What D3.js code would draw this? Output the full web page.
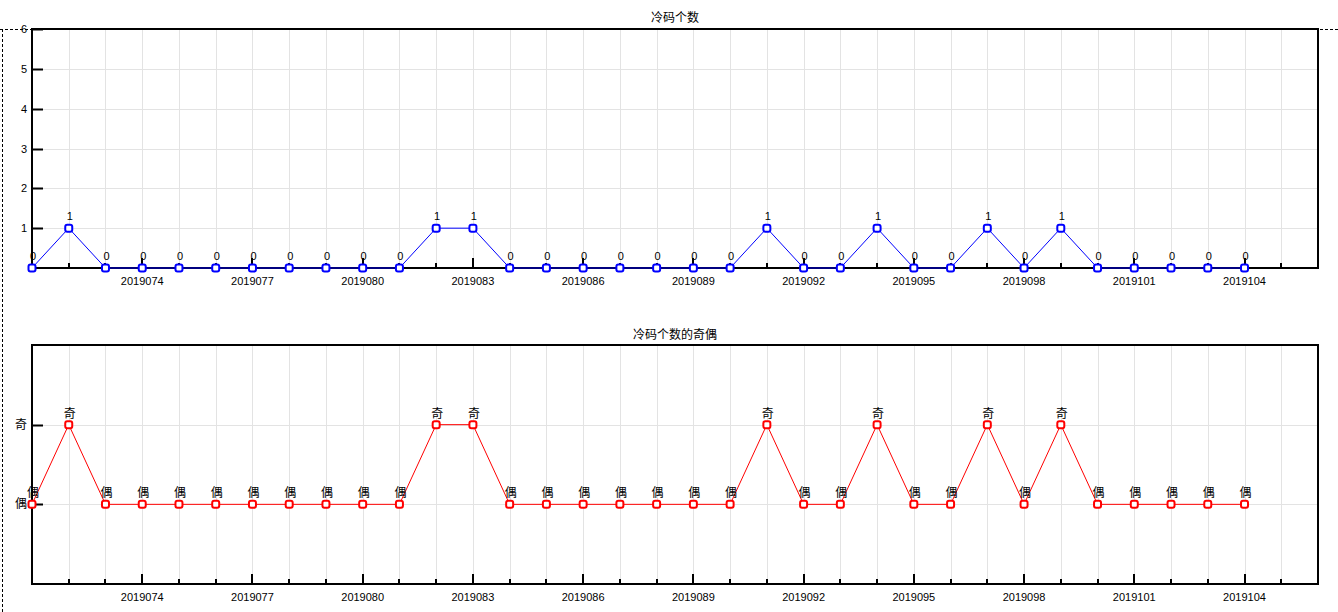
<!DOCTYPE html>
<html><head><meta charset="utf-8">
<script src="https://cdn.jsdelivr.net/npm/d3@7"></script>
<style>
html,body{margin:0;padding:0;background:#fff;}
svg{display:block;}
text{font-family:"Liberation Sans",Arial,sans-serif;font-size:11px;fill:#000;}
.cjk{font-family:"Noto Sans CJK SC",sans-serif;font-size:12px;}
</style></head>
<body><svg id="c" width="1338" height="612"></svg>
<script>
const periods = ["2019071","2019072","2019073","2019074","2019075","2019076","2019077","2019078","2019079","2019080",
"2019081","2019082","2019083","2019084","2019085","2019086","2019087","2019088","2019089","2019090",
"2019091","2019092","2019093","2019094","2019095","2019096","2019097","2019098","2019099","2019100",
"2019101","2019102","2019103","2019104","2019105","2019106"];
const coldCount = [0,1,0,0,0,0,0,0,0,0,0,1,1,0,0,0,0,0,0,0,1,0,0,1,0,0,1,0,1,0,0,0,0,0];
const parity = ["偶","奇","偶","偶","偶","偶","偶","偶","偶","偶","偶","奇","奇","偶","偶","偶","偶","偶","偶","偶",
"奇","偶","偶","奇","偶","偶","奇","偶","奇","偶","偶","偶","偶","偶"];
const xTickLabels = ["2019074","2019077","2019080","2019083","2019086","2019089","2019092","2019095","2019098","2019101","2019104"];
const yTicksTop = [1,2,3,4,5,6];
const parityLevels = ["偶","奇"];

const svg = d3.select("#c");
const L = 32, R = 1318;
const x = d3.scaleLinear().domain([0, periods.length - 1]).range([L, R]);

function panel(top, bottom, yScale, yTicks, yFmt, yClass, vals, labels, color, title, titleY, lblClass, lblOff) {
  const g = svg.append("g");
  g.selectAll(".vg").data(periods.slice(1, -1)).join("line")
    .attr("x1", (d,i)=>Math.round(x(i+1))+0.5).attr("x2",(d,i)=>Math.round(x(i+1))+0.5)
    .attr("y1", top).attr("y2", bottom).attr("stroke", "#e3e3e3");
  g.selectAll(".hg").data(yTicks).join("line")
    .attr("x1", L).attr("x2", R).attr("y1", d=>Math.round(yScale(d))+0.5).attr("y2", d=>Math.round(yScale(d))+0.5)
    .attr("stroke", "#e3e3e3");
  g.append("rect").attr("x", L).attr("y", top).attr("width", R-L).attr("height", bottom-top)
    .attr("fill","none").attr("stroke","#000").attr("stroke-width",2);
  g.selectAll(".yt").data(yTicks).join("line")
    .attr("x1", L).attr("x2", L+11).attr("y1", d=>Math.round(yScale(d))+0.5).attr("y2", d=>Math.round(yScale(d))+0.5)
    .attr("stroke","#000").attr("stroke-width",2);
  g.selectAll(".yl").data(yTicks).join("text")
    .attr("class", yClass)
    .attr("x", 27).attr("y", d=>yScale(d)+4).attr("text-anchor","end").text(yFmt);
  g.selectAll(".xt").data(periods.slice(1,-1)).join("line")
    .attr("x1",(d,i)=>Math.round(x(i+1))).attr("x2",(d,i)=>Math.round(x(i+1)))
    .attr("y1", bottom).attr("y2", d=>xTickLabels.includes(d) ? bottom-10 : bottom-5)
    .attr("stroke","#000").attr("stroke-width",2);
  g.selectAll(".xl").data(xTickLabels).join("text")
    .attr("x", d=>x(periods.indexOf(d))).attr("y", bottom+17).attr("text-anchor","middle").text(d=>d);
  g.append("text").attr("class","cjk").attr("x",(L+R)/2).attr("y",titleY).attr("text-anchor","middle").text(title);
  const line = d3.line().x((d,i)=>x(i)).y(d=>yScale(d));
  g.append("path").datum(vals).attr("d", line).attr("fill","none").attr("stroke",color).attr("stroke-width",1);
  g.selectAll(".mk").data(vals).join("rect")
    .attr("x",(d,i)=>x(i)-3.5).attr("y",d=>yScale(d)-3.5).attr("width",7).attr("height",7).attr("rx",2)
    .attr("fill","#fff").attr("stroke",color).attr("stroke-width",2);
  g.selectAll(".dl").data(vals).join("text")
    .attr("class", lblClass)
    .attr("x",(d,i)=>x(i)+1).attr("y",d=>yScale(d)-lblOff).attr("text-anchor","middle").text((d,i)=>labels[i]);
}

const yTop = d3.scaleLinear().domain([0,6]).range([268,29]);
panel(29, 268, yTop, yTicksTop, d=>d, "", coldCount, coldCount.map(String), "#0000ff", "冷码个数", 22, "", 8);

const yBot = d3.scaleLinear().domain([-1,2]).range([584,345]);
const parityVals = parity.map(p=>parityLevels.indexOf(p));
panel(345, 584, yBot, [0,1], d=>parityLevels[d], "cjk", parityVals, parity, "#ff0000", "冷码个数的奇偶", 339, "cjk", 7);

svg.append("line").attr("x1",0).attr("x2",1338).attr("y1",29.5).attr("y2",29.5)
  .attr("stroke","#000").attr("stroke-dasharray","3,2");
svg.append("line").attr("x1",2.5).attr("x2",2.5).attr("y1",29).attr("y2",612)
  .attr("stroke","#000").attr("stroke-dasharray","3,2");
</script></body></html>
